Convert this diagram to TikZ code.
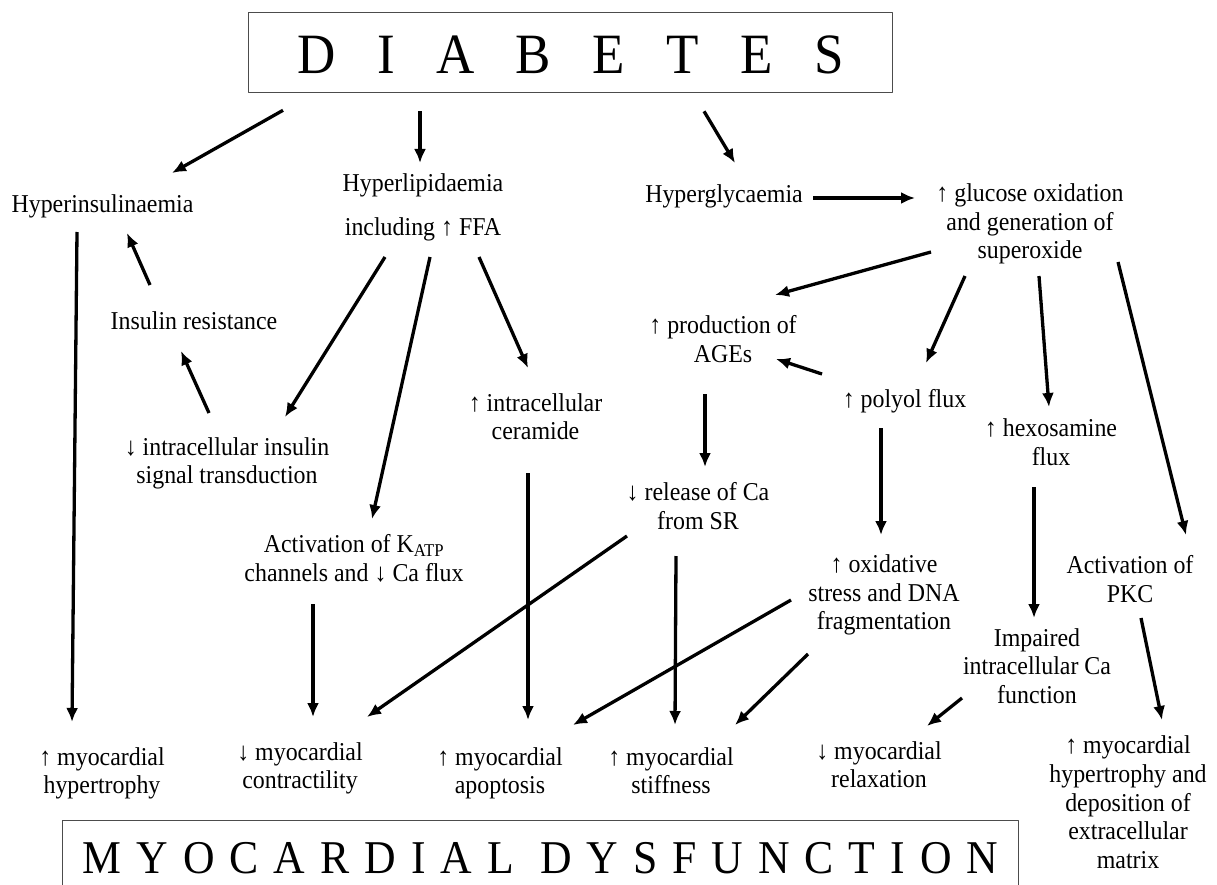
\documentclass[tikz,border=0pt]{standalone}
\usepackage{fontspec}
\setmainfont{Liberation Serif}[FakeStretch=0.93]
\usetikzlibrary{arrows.meta,calc}

% разрядка букв в заголовках
\newcommand{\tsp}{\kern41.5pt}
\newcommand{\dsp}{\kern15pt}

\begin{document}
\begin{tikzpicture}[
    x=1pt, y=-1pt,
    line join=round,
    arr/.style={line width=3.3pt,-{Latex[length=14pt,width=12pt]}},
    lbl/.style={align=center,inner sep=0pt,font=\fontsize{25.7}{28.6}\selectfont,
                execute at begin node=\strut,execute at end node=\strut},
    titlebox/.style={draw=black!70,line width=1.3pt,inner sep=0pt,anchor=north west}
]
\useasboundingbox (0,0) rectangle (1217,885);

% -------------------------------------------------
% Заголовки
% -------------------------------------------------

\node[titlebox,minimum width=644pt,text height=61pt,text depth=19pt,
      font=\fontsize{57}{60}\selectfont] (diabetes) at (248,12)
      {D\tsp I\tsp A\tsp B\tsp E\tsp T\tsp E\tsp S};

\node[titlebox,minimum width=956pt,text height=53pt,text depth=40pt,
      font=\fontsize{47}{50}\selectfont] (dysf) at (62,820)
      {M\dsp Y\dsp O\dsp C\dsp A\dsp R\dsp D\dsp I\dsp A\dsp L\kern26pt
       D\dsp Y\dsp S\dsp F\dsp U\dsp N\dsp C\dsp T\dsp I\dsp O\dsp N};

% -------------------------------------------------
% Первый уровень
% -------------------------------------------------

\node[lbl] (hyperins)  at (102.5,207) {Hyperinsulinaemia};
\node[lbl] (hyperlip)  at (423,209)   {Hyperlipidaemia\\[15.4pt]including ↑ FFA};
\node[lbl] (hyperglyc) at (724,197)   {Hyperglycaemia};
\node[lbl] (glucose)   at (1030,225.5) {↑ glucose oxidation\\and generation of\\superoxide};

% -------------------------------------------------
% Промежуточные звенья
% -------------------------------------------------

\node[lbl] (insres)   at (194,324)   {Insulin resistance};
\node[lbl] (signal)   at (227,465)   {↓ intracellular insulin\\signal transduction};
\node[lbl] (ceramide) at (535.5,421) {↑ intracellular\\ceramide};
\node[lbl] (katp)     at (354,562.5) {Activation of K\textsubscript{ATP}\\channels and ↓ Ca flux};
\node[lbl] (ages)     at (723,343)   {↑ production of\\AGEs};
\node[lbl] (polyol)   at (904.5,402) {↑ polyol flux};
\node[lbl] (hexos)    at (1051,446.5) {↑ hexosamine\\flux};
\node[lbl] (release)  at (698,510.5) {↓ release of Ca\\from SR};
\node[lbl] (oxid)     at (884,596.5) {↑ oxidative\\stress and DNA\\fragmentation};
\node[lbl] (pkc)      at (1130,583)  {Activation of\\PKC};
\node[lbl] (impair)   at (1037,670)  {Impaired\\intracellular Ca\\function};

% -------------------------------------------------
% Исходы
% -------------------------------------------------

\node[lbl] (hypertr)  at (102,775)   {↑ myocardial\\hypertrophy};
\node[lbl] (contract) at (300,770)   {↓ myocardial\\contractility};
\node[lbl] (apopt)    at (500,775)   {↑ myocardial\\apoptosis};
\node[lbl] (stiff)    at (671,775)   {↑ myocardial\\stiffness};
\node[lbl] (relax)    at (879,769)   {↓ myocardial\\relaxation};
\node[lbl] (matrix)   at (1128,806.5) {↑ myocardial\\hypertrophy and\\deposition of\\extracellular\\matrix};

% -------------------------------------------------
% Стрелки от заголовка
% -------------------------------------------------

\draw[arr] ($(diabetes.south west)+(35,17)$)  -- ($(hyperins)+(69.5,-34)$);
\draw[arr] ($(diabetes.south west)+(172,18)$) -- ($(hyperlip)+(-3,-46)$);
\draw[arr] ($(diabetes.south west)+(456,18)$) -- ($(hyperglyc)+(11,-34)$);
\draw[arr] ($(hyperglyc)+(89,1)$) -- ($(glucose)+(-115,-27.5)$);

% -------------------------------------------------
% Левая ветвь
% -------------------------------------------------

\draw[arr] ($(hyperins)+(-25.5,25)$) -- ($(hypertr)+(-30,-53)$);
\draw[arr] ($(insres)+(-44,-39)$)    -- ($(hyperins)+(24.5,26)$);
\draw[arr] ($(signal)+(-18,-52)$)    -- ($(insres)+(-13,27)$);
\draw[arr] ($(hyperlip)+(-38,48)$)   -- ($(signal)+(58,-48)$);
\draw[arr] ($(hyperlip)+(7,48)$)     -- ($(katp)+(18,-43.5)$);
\draw[arr] ($(hyperlip)+(56,48)$)    -- ($(ceramide)+(-7.5,-53)$);

% -------------------------------------------------
% Правая ветвь
% -------------------------------------------------

\draw[arr] ($(glucose)+(-99,26.5)$) -- ($(ages)+(52,-48)$);
\draw[arr] ($(glucose)+(-65,50.5)$) -- ($(polyol)+(21.5,-39)$);
\draw[arr] ($(glucose)+(9,50.5)$)   -- ($(hexos)+(-2,-39.5)$);
\draw[arr] ($(glucose)+(88,36.5)$)  -- ($(pkc)+(56,-48)$);
\draw[arr] ($(polyol)+(-82.5,-28)$) -- ($(ages)+(53,16)$);
\draw[arr] ($(ages)+(-18,51)$)      -- ($(release)+(7,-43.5)$);
\draw[arr] ($(polyol)+(-23.5,26)$)  -- ($(oxid)+(-3,-61.5)$);
\draw[arr] ($(hexos)+(-17,40.5)$)   -- ($(impair)+(-3,-52)$);

% -------------------------------------------------
% Стрелки к исходам
% -------------------------------------------------

\draw[arr] ($(katp)+(-41,41.5)$)    -- ($(contract)+(13,-53)$);
\draw[arr] ($(release)+(-71,25.5)$) -- ($(contract)+(67,-53)$);
\draw[arr] ($(ceramide)+(-7.5,52)$) -- ($(apopt)+(28,-55)$);
\draw[arr] ($(oxid)+(-93,3.5)$)     -- ($(apopt)+(73,-50)$);
\draw[arr] ($(release)+(-22,45.5)$) -- ($(stiff)+(4,-50)$);
\draw[arr] ($(oxid)+(-76,57.5)$)    -- ($(stiff)+(64,-50)$);
\draw[arr] ($(impair)+(-75,28)$)    -- ($(relax)+(48,-43)$);
\draw[arr] ($(pkc)+(11,35)$)        -- ($(matrix)+(34,-86.5)$);
\end{tikzpicture}
\end{document}
